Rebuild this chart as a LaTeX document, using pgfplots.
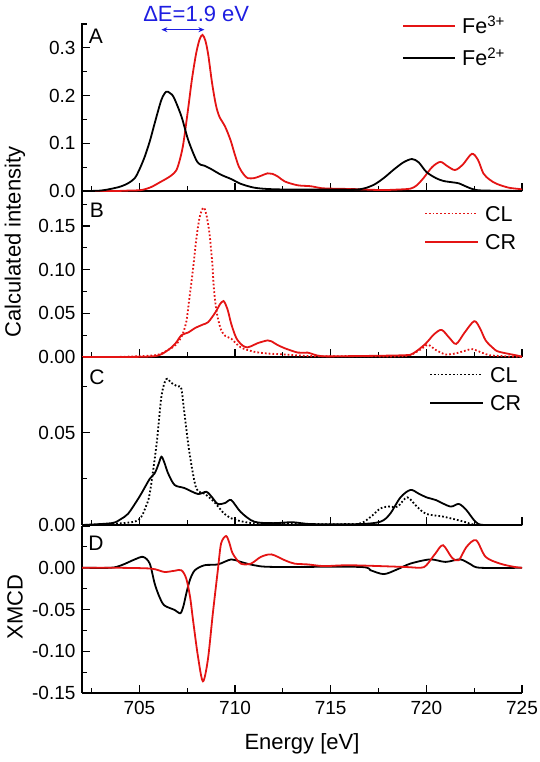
\documentclass[border=0pt]{standalone}
\usepackage{fontspec}
\setmainfont{Liberation Sans}
\usepackage{pgfplots}
\pgfplotsset{compat=1.18}
\usetikzlibrary{arrows.meta}
\definecolor{fered}{RGB}{228,20,20}
\definecolor{deblue}{RGB}{30,30,225}
\tikzset{dotstyle/.style={dash pattern=on 1.7pt off 2.1pt}}
\pgfplotsset{
  panel/.style={
    scale only axis, width=440pt,
    xmin=702, xmax=725,
    axis x line*=bottom, axis y line*=left,
    tick align=inside,
    major tick length=8pt, minor tick length=5pt,
    scaled y ticks=false, scaled x ticks=false,
    xtick={705,710,715,720,725},
    minor xtick={702.5,707.5,712.5,717.5,722.5},
    ticklabel style={font=\fontsize{19}{22}\selectfont},
    yticklabel style={xshift=-3pt},
    xticklabel style={yshift=-5pt},
    axis line style={line width=1.3pt},
    every tick/.style={black, line width=1.1pt},
    clip mode=individual,
    every axis plot/.append style={line width=1.8pt, smooth, tension=0.5, mark=none},
  },
}
\newcommand{\legline}[6]{% colour, extra style, x1, x2, y, text
  \draw[line width=1.8pt, draw=#1, #2] (#3pt,-#5pt) -- (#4pt,-#5pt);
  \node[anchor=base west, inner sep=0pt, font=\fontsize{21.5}{24}\selectfont]
    at ([xshift=7pt,yshift=-7.6pt]#4pt,-#5pt) {#6};}
\begin{document}
\begin{tikzpicture}
\useasboundingbox (0,0) rectangle (539pt,-762pt);
% ---------------- Panel A
\begin{axis}[panel, at={(82pt,-191pt)}, anchor=south west, height=168pt,
  ymin=0, ymax=0.352,
  ytick={0,0.1,0.2,0.3}, yticklabels={0.0,0.1,0.2,0.3},
  minor ytick={0.05,0.15,0.25,0.35},
  xticklabels={,,,,}]
\addplot[fered] coordinates {
(702,0) (703.7,0) (704.5,0.001) (705.1,0.002) (705.6,0.008) (706.15,0.020)
(706.5,0.028) (706.8,0.037) (707.0,0.050) (707.27,0.093) (707.54,0.170)
(707.75,0.235) (707.97,0.289) (708.15,0.318) (708.3,0.327) (708.45,0.315)
(708.6,0.285) (708.8,0.226) (709.0,0.180) (709.18,0.156) (709.48,0.135)
(709.76,0.107) (709.97,0.079) (710.2,0.051) (710.45,0.035) (710.66,0.027)
(711.0,0.027) (711.3,0.031) (711.7,0.037) (711.95,0.036) (712.25,0.030)
(712.6,0.020) (713.27,0.012) (713.96,0.010) (714.5,0.006) (715.0,0.005)
(716.2,0.004) (717.6,0.002) (718.5,0.003) (719.17,0.005) (719.5,0.012)
(719.85,0.027) (720.3,0.050) (720.73,0.061) (721.1,0.052) (721.5,0.044)
(721.9,0.055) (722.38,0.078) (722.7,0.065) (722.98,0.037) (723.3,0.024)
(723.68,0.015) (724.3,0.007) (724.9,0.004) (725,0.003)
};
\addplot[black] coordinates {
(702,0) (703,0.001) (703.9,0.008) (704.4,0.016) (704.76,0.027) (705.0,0.045)
(705.28,0.072) (705.55,0.105) (705.8,0.142) (706.15,0.191) (706.4,0.208)
(706.6,0.205) (706.8,0.196) (707.2,0.156) (707.55,0.107) (707.97,0.065)
(708.2,0.055) (708.4,0.053) (708.75,0.046) (709.27,0.034) (709.8,0.025)
(710.3,0.015) (711.0,0.007) (711.8,0.004) (713,0.003) (715,0.003)
(716.3,0.003) (716.8,0.006) (717.3,0.014) (717.8,0.028) (718.3,0.045)
(718.8,0.060) (719.25,0.067) (719.6,0.060) (720.0,0.040) (720.5,0.027)
(720.9,0.021) (721.4,0.018) (721.7,0.016) (722.1,0.009) (722.5,0.003)
(723,0.001) (725,0)
};
\draw[deblue, line width=1pt, {Stealth[length=6pt,width=5pt]}-{Stealth[length=6pt,width=5pt]}]
  (axis cs:706.15,0.338) -- (axis cs:708.4,0.338);
\node[deblue, font=\fontsize{22}{26}\selectfont] at (axis cs:707.97,0.370) {ΔE=1.9 eV};
\end{axis}
% ---------------- Panel B
\begin{axis}[panel, at={(82pt,-357pt)}, anchor=south west, height=166pt,
  ymin=0, ymax=0.19,
  ytick={0,0.05,0.1,0.15}, yticklabels={0.00,0.05,0.10,0.15},
  minor ytick={0.025,0.075,0.125,0.175},
  xticklabels={,,,,}]
\addplot[fered, dotstyle] coordinates {
(702,0) (703.7,0) (705.8,0.002) (706.5,0.008) (706.9,0.014) (707.2,0.023)
(707.45,0.040) (707.6,0.065) (707.8,0.100) (707.97,0.134) (708.15,0.160)
(708.35,0.171) (708.5,0.163) (708.66,0.142) (708.8,0.110) (708.9,0.077)
(709.05,0.050) (709.27,0.031) (709.5,0.024) (709.8,0.021) (710.3,0.011)
(711.0,0.006) (711.7,0.004) (712.5,0.003) (714,0.001) (716,0.001)
(718.8,0.001) (719.5,0.006) (719.85,0.011) (720.1,0.014) (720.5,0.008)
(721.0,0.003) (721.5,0.004) (722.0,0.007) (722.4,0.009) (722.9,0.005)
(723.3,0.002) (724,0.001) (725,0)
};
\addplot[fered] coordinates {
(702,0) (703.7,0) (705.8,0.001) (706.5,0.008) (706.9,0.016) (707.2,0.025)
(707.55,0.028) (707.9,0.033) (708.3,0.037) (708.6,0.040) (709.0,0.052)
(709.2,0.060) (709.4,0.064) (709.6,0.055) (709.8,0.038) (710.0,0.025)
(710.14,0.019) (710.4,0.013) (710.66,0.011) (711.0,0.014) (711.2,0.016)
(711.7,0.019) (711.9,0.018) (712.2,0.014) (712.6,0.010) (713.3,0.005)
(713.8,0.005) (714.5,0.001) (716,0.001) (718.8,0.002) (719.3,0.004)
(719.95,0.015) (720.4,0.026) (720.8,0.031) (721.2,0.022) (721.56,0.015)
(722.0,0.028) (722.5,0.041) (722.8,0.033) (723.1,0.019) (723.5,0.010)
(723.8,0.006) (724.9,0.001) (725,0)
};
\end{axis}
% ---------------- Panel C
\begin{axis}[panel, at={(82pt,-525pt)}, anchor=south west, height=168pt,
  ymin=0, ymax=0.091,
  ytick={0,0.05}, yticklabels={0.00,0.05},
  minor ytick={0.025,0.075},
  xticklabels={,,,,}]
\addplot[black, dotstyle] coordinates {
(702,0) (703.5,0.0005) (704.74,0.0018) (705.1,0.0045) (705.3,0.009)
(705.54,0.017) (705.9,0.044) (706.15,0.0695) (706.4,0.079) (706.67,0.077)
(707.0,0.075) (707.19,0.074) (707.36,0.060) (707.62,0.039) (707.97,0.020)
(708.4,0.017) (708.9,0.0126) (709.45,0.006) (709.96,0.003) (710.9,0.001)
(712,0.001) (713,0.001) (714,0.0005) (716,0.0005) (716.6,0.001)
(717.1,0.0045) (717.6,0.009) (718.0,0.010) (718.5,0.010) (719.0,0.015)
(719.5,0.010) (720.0,0.006) (720.9,0.0045) (721.9,0.002) (722.7,0) (725,0)
};
\addplot[black] coordinates {
(702,0) (703.54,0.001) (704.0,0.003) (704.4,0.006) (704.8,0.012)
(705.1,0.017) (705.54,0.025) (705.8,0.028) (706.0,0.033) (706.15,0.037)
(706.3,0.034) (706.5,0.028) (706.84,0.0217) (707.36,0.020) (708.06,0.0168)
(708.5,0.018) (708.8,0.015) (709.1,0.0114) (709.5,0.012) (709.8,0.0135)
(710.3,0.007) (711.0,0.0018) (712,0.001) (713,0.0015) (714,0.0005)
(716.5,0.0005) (717.6,0.0018) (718.1,0.006) (718.65,0.015) (719.17,0.019)
(719.6,0.017) (720.0,0.015) (720.5,0.0135) (721.25,0.010) (721.7,0.0114)
(722.1,0.008) (722.55,0.002) (723,0) (725,0)
};
\end{axis}
% ---------------- Panel D
\begin{axis}[panel, at={(82pt,-693pt)}, anchor=south west, height=167pt,
  ymin=-0.15, ymax=0.05,
  ytick={-0.15,-0.1,-0.05,0,0.05}, yticklabels={-0.15,-0.10,-0.05,0.00,{}},
  minor ytick={-0.125,-0.075,-0.025,0.025},
  xticklabels={705,710,715,720,725}]
\addplot[black] coordinates {
(702,0) (703.5,0) (704.06,0.003) (704.76,0.010) (705.2,0.013) (705.54,0.005)
(705.8,-0.019) (706.05,-0.035) (706.3,-0.045) (706.84,-0.0505) (707.14,-0.0545)
(707.3,-0.046) (707.45,-0.031) (707.65,-0.014) (707.9,-0.003) (708.4,0.003)
(709.1,0.004) (709.8,0.010) (710.3,0.007) (711,0.003) (712,0.001)
(716.5,0.001) (717.08,-0.003) (717.78,-0.0076) (718.47,-0.002) (719.17,0.005)
(720.2,0.010) (721.0,0.007) (721.77,0.010) (722.3,0.0044) (722.8,0) (725,0)
};
\addplot[fered] coordinates {
(702,0) (703.7,0) (705.6,-0.001) (706.3,-0.005) (706.84,-0.0036) (707.2,-0.003)
(707.45,-0.013) (707.65,-0.035) (707.8,-0.062) (708.06,-0.106) (708.32,-0.136)
(708.58,-0.110) (708.84,-0.0545) (709.1,-0.003) (709.27,0.029) (709.53,0.038)
(709.7,0.030) (709.88,0.017) (710.3,0.005) (710.83,0.005) (711.35,0.013)
(711.9,0.016) (712.6,0.009) (713.1,0.005) (713.8,0.004) (714.65,0.002)
(716,0.003) (718.8,0.001) (719.7,0) (720.0,0.003) (720.47,0.017)
(720.87,0.027) (721.34,0.012) (721.69,0.009) (722.1,0.025) (722.6,0.033)
(723.1,0.013) (723.85,0.005) (724.6,0.001) (725,0)
};
\end{axis}
% ---------------- legends
\legline{fered}{}{403}{455}{26}{Fe\textsuperscript{3+}}
\legline{black}{}{403}{455}{58}{Fe\textsuperscript{2+}}
\legline{fered}{dotstyle}{425}{478}{213.5}{CL}
\legline{fered}{}{425}{478}{242}{CR}
\legline{black}{dotstyle}{430}{483}{374.5}{CL}
\legline{black}{}{430}{483}{403}{CR}
% ---------------- labels
\node[rotate=90, font=\fontsize{22}{26}\selectfont] at (15pt,-242pt) {Calculated intensity};
\node[rotate=90, font=\fontsize{22}{26}\selectfont] at (15pt,-607pt) {XMCD};
\node[font=\fontsize{22}{26}\selectfont] at (302pt,-744pt) {Energy [eV]};
\node[font=\fontsize{21}{24}\selectfont] at (96pt,-36pt) {A};
\node[font=\fontsize{21}{24}\selectfont] at (97pt,-210pt) {B};
\node[font=\fontsize{21}{24}\selectfont] at (97pt,-377pt) {C};
\node[font=\fontsize{21}{24}\selectfont] at (96pt,-543pt) {D};
\end{tikzpicture}
\end{document}
